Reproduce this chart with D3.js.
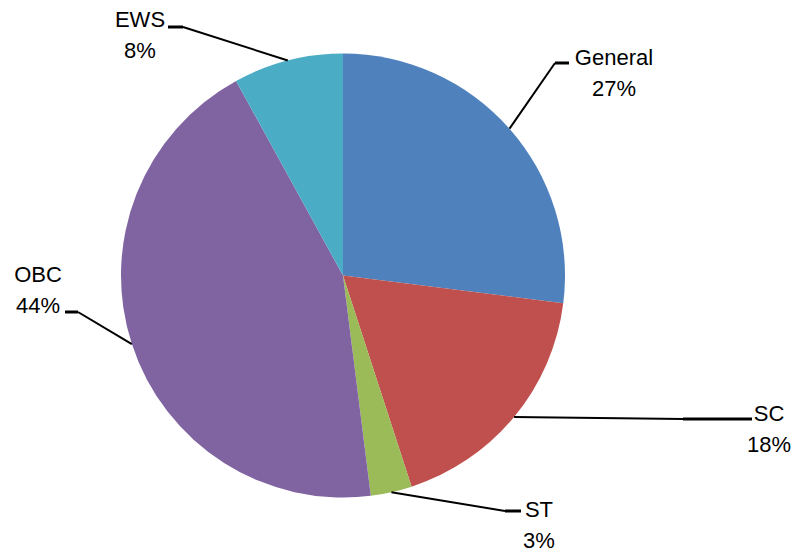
<!DOCTYPE html>
<html>
<head>
<meta charset="utf-8">
<script src="https://cdn.jsdelivr.net/npm/d3@7"></script>
<style>
  html, body { margin: 0; padding: 0; background: #fff; }
</style>
</head>
<body>
<script>
// data
const categories = ["General", "SC", "ST", "OBC", "EWS"];
const shares = [27, 18, 3, 44, 8];
const colors = ["#4F81BD", "#C0504D", "#9BBB59", "#8064A2", "#4BACC6"];

// label placement (layout only): text centre, first baseline, elbow and stub end of leader
const labelPos = {
  General: { x: 614, y: 65, elbow: [555, 63], end: [569, 63] },
  SC:      { x: 769, y: 421, elbow: [683, 419], end: [752, 419] },
  ST:      { x: 539, y: 517, elbow: [505, 511], end: [521, 511] },
  OBC:     { x: 38,  y: 282, elbow: [78, 312], end: [65, 312] },
  EWS:     { x: 140, y: 27, elbow: [183, 27], end: [168, 27] }
};

const width = 795, height = 557;
const cx = 343, cy = 275.5, radius = 222;

const svg = d3.select("body").append("svg")
  .attr("width", width)
  .attr("height", height);

const data = categories.map((c, i) => ({ name: c, value: shares[i], color: colors[i] }));

const pie = d3.pie().value(d => d.value).sort(null);
const arcs = pie(data);
const arc = d3.arc().innerRadius(0).outerRadius(radius);

const g = svg.append("g").attr("transform", `translate(${cx},${cy})`);

g.selectAll("path")
  .data(arcs)
  .join("path")
  .attr("d", arc)
  .attr("fill", d => d.data.color);

// leader lines: from slice edge (mid angle) to elbow, then short thicker stub
const edge = d => {
  const a = (d.startAngle + d.endAngle) / 2;
  return [cx + radius * Math.sin(a), cy - radius * Math.cos(a)];
};

const lines = svg.append("g")
  .attr("fill", "none")
  .attr("stroke", "#000")
  .attr("stroke-linecap", "butt");
arcs.forEach(d => {
  const p = labelPos[d.data.name];
  lines.append("path")
    .attr("d", d3.line()([edge(d), p.elbow]))
    .attr("stroke-width", 2);
  lines.append("path")
    .attr("d", d3.line()([p.elbow, p.end]))
    .attr("stroke-width", 3);
});

// labels
const labels = svg.append("g")
  .attr("font-family", "'Liberation Sans', Arial, sans-serif")
  .attr("font-size", 22)
  .attr("fill", "#000")
  .attr("text-anchor", "middle");

arcs.forEach(d => {
  const p = labelPos[d.data.name];
  labels.append("text").attr("x", p.x).attr("y", p.y).text(d.data.name);
  labels.append("text").attr("x", p.x).attr("y", p.y + 31).text(d.data.value + "%");
});
</script>
</body>
</html>
